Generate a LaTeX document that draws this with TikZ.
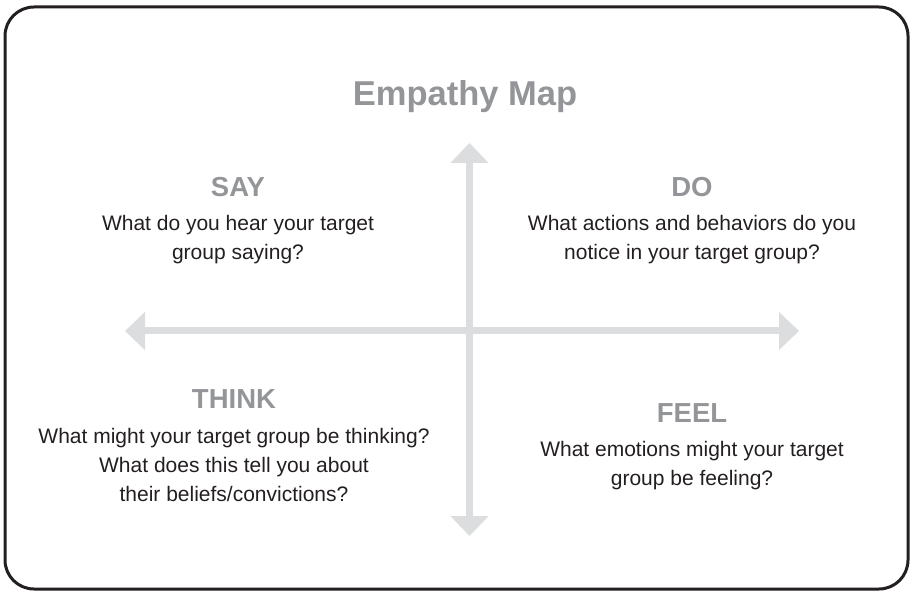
\documentclass[tikz,border=0pt]{standalone}
\usepackage{fontspec}
\setmainfont{Liberation Sans}
\usepackage{tikz}
\usetikzlibrary{arrows.meta,positioning}

\definecolor{framedark}{HTML}{231F20}
\definecolor{headgray}{HTML}{939598}
\definecolor{axisgray}{HTML}{DCDDDF}

\begin{document}
\begin{tikzpicture}[x=1pt, y=1pt,
  maptitle/.style = {anchor=base, inner sep=0pt, text=headgray, font=\fontsize{34.5}{40}\selectfont\bfseries},
  heading/.style  = {anchor=base, inner sep=0pt, text=headgray, font=\fontsize{27.5}{32}\selectfont\bfseries},
  question/.style = {inner sep=0pt, align=center, text=framedark, font=\fontsize{21}{29}\selectfont},
  axis/.style     = {line width=7pt, axisgray, {Triangle[length=20pt,width=37pt]}-{Triangle[length=20pt,width=37pt]}}]
 \useasboundingbox (0,0) rectangle (912,592);
 \draw[framedark, line width=3pt, rounded corners=29pt] (5,3) rectangle (908,585);

 % the two axes
 \coordinate (top) at (469.5,449);
 \coordinate (bottom) at (469.5,56);
 \coordinate (left) at (125,261);
 \coordinate (right) at (799,261);
 \draw[axis] (top) -- (bottom);
 \draw[axis] (left) -- (right);

 \node[maptitle] (title) at (465,486) {Empathy Map};

 \node[heading] (say) at (238,395) {SAY};
 \node[question, below=18pt of say] (saytext) {What do you hear your target\\ group saying?};

 \node[heading] (do) at (692,395) {DO};
 \node[question, below=18pt of do] (dotext) {What actions and behaviors do you\\ notice in your target group?};

 \node[heading] (think) at (234,184) {THINK};
 \node[question, below=20pt of think] (thinktext) {What might your target group be thinking?\\ What does this tell you about\\ their beliefs/convictions?};

 \node[heading] (feel) at (692,170) {FEEL};
 \node[question, below=19pt of feel] (feeltext) {What emotions might your target\\ group be feeling?};
\end{tikzpicture}
\end{document}
